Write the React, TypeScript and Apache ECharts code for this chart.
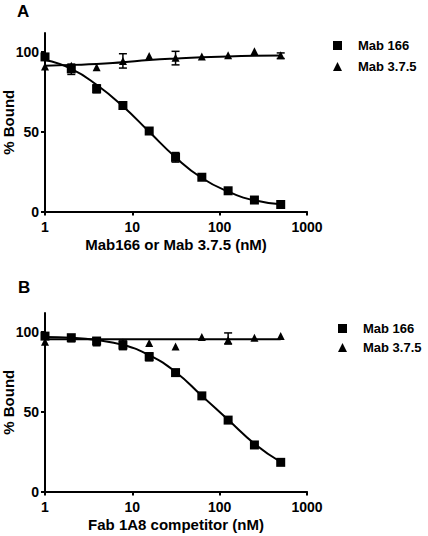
import React, { useEffect, useRef } from "react";
import * as echarts from "echarts";

const doses = [1, 2, 3.9, 7.8, 15.6, 31.25, 62.5, 125, 250, 500];
const xTicks = [1, 10, 100, 1000];
const yTicks = [0, 50, 100];

// Panel A
const aMab166 = [97, 89.5, 77, 66.5, 50.5, 34, 21.5, 13, 7.2, 4.4];
const aMab375 = [91, 91.5, 90.5, 94.5, 97.5, 96.5, 97.3, 98, 100.5, 98];
const aFit166 = [95, 89.5, 79.5, 66, 50, 34, 21, 12.5, 7, 4.5];
const aFit375 = [91.5, 92, 92.5, 93.7, 95, 96, 96.8, 97.3, 97.7, 97.9];
// error bars [dose, low, high]
const aErr: number[][] = [
  [2, 86, 92.5],
  [3.9, 74.5, 79.5],
  [7.8, 90, 99],
  [31.25, 31, 37],
  [31.25, 92, 100.5],
  [500, 96, 99.5],
];

// Panel B
const bMab166 = [97.5, 96.5, 94.4, 91.9, 84.6, 74.6, 60, 44.8, 29.2, 18.3];
const bMab375 = [94, 96, 93.5, 93.5, 93.1, 91, 97, 95, 96.5, 97.5];
const bFit166 = [97, 96.5, 95, 92, 85.5, 75, 60, 45, 30, 18.5];
const bFit375 = [95.5, 95.5, 95.5, 95.5, 95.5, 95.5, 95.5, 95.5, 95.5, 95.5];
const bErr: number[][] = [
  [3.9, 92, 96.5],
  [7.8, 89, 94.5],
  [15.6, 82, 87],
  [125, 92.5, 99.5],
];

const seriesNames = ["Mab 166", "Mab 3.7.5"];
const xNames = ["Mab166 or Mab 3.7.5 (nM)", "Fab 1A8 competitor (nM)"];

const FONT = "'Liberation Sans', Arial, Helvetica, sans-serif";
const BLACK = "#000";

const zip = (xs: number[], ys: number[]) => xs.map((x, i) => [x, ys[i]]);

const errRender = (params: any, api: any) => {
  const x = api.value(0);
  const p1 = api.coord([x, api.value(1)]);
  const p2 = api.coord([x, api.value(2)]);
  const w = 4;
  const style = { stroke: BLACK, lineWidth: 1.5 };
  return {
    type: "group",
    children: [
      { type: "line", shape: { x1: p1[0], y1: p1[1], x2: p2[0], y2: p2[1] }, style },
      { type: "line", shape: { x1: p1[0] - w, y1: p1[1], x2: p1[0] + w, y2: p1[1] }, style },
      { type: "line", shape: { x1: p2[0] - w, y1: p2[1], x2: p2[0] + w, y2: p2[1] }, style },
    ],
  };
};

export default function App() {
  const ref = useRef<HTMLDivElement>(null);
  useEffect(() => {
    if (!ref.current) return;
    const chart = echarts.init(ref.current, null, { renderer: "svg" });
    const tickText = { color: BLACK, fontWeight: "bold" as const, fontSize: 14, fontFamily: FONT };
    const nameText = { color: BLACK, fontWeight: "bold" as const, fontSize: 15, fontFamily: FONT };
    const legendText = { color: BLACK, fontWeight: "bold" as const, fontSize: 13, fontFamily: FONT, padding: [0, 0, 0, 11] };
    const mkX = (i: number) => ({
      type: "log",
      gridIndex: i,
      logBase: 10,
      min: 1,
      max: 1000,
      name: xNames[i],
      nameLocation: "middle",
      nameGap: 25,
      nameMoveOverlap: false,
      nameTextStyle: nameText,
      axisLine: { lineStyle: { color: BLACK, width: 2 } },
      axisTick: { length: 4, lineStyle: { color: BLACK, width: 2 }, customValues: xTicks },
      axisLabel: { ...tickText, margin: 8, customValues: xTicks, formatter: (v: number) => String(Math.round(v)) },
      splitLine: { show: false },
      minorTick: { show: false },
    });
    const mkY = (i: number) => ({
      type: "value",
      gridIndex: i,
      min: 0,
      max: 112,
      interval: 50,
      name: "% Bound",
      nameLocation: "middle",
      nameGap: 29,
      nameMoveOverlap: false,
      nameRotate: 90,
      nameTextStyle: nameText,
      axisLine: { show: true, lineStyle: { color: BLACK, width: 2 } },
      axisTick: { show: true, length: 4, lineStyle: { color: BLACK, width: 2 }, customValues: yTicks },
      axisLabel: { ...tickText, margin: 6, customValues: yTicks },
      splitLine: { show: false },
    });
    const scatter = (name: string, i: number, data: number[][], symbol: string, size: number) => ({
      type: "scatter",
      name,
      xAxisIndex: i,
      yAxisIndex: i,
      data,
      symbol,
      symbolSize: size,
      itemStyle: { color: BLACK, opacity: 1 },
      z: 5,
    });
    const fit = (i: number, data: number[][]) => ({
      type: "line",
      xAxisIndex: i,
      yAxisIndex: i,
      data,
      smooth: 0.5,
      showSymbol: false,
      symbol: "none",
      lineStyle: { color: BLACK, width: 2 },
      z: 3,
    });
    const err = (i: number, data: number[][]) => ({
      type: "custom",
      xAxisIndex: i,
      yAxisIndex: i,
      data,
      renderItem: errRender,
      encode: { x: 0, y: [1, 2] },
      z: 4,
    });
    const legend = (top: number, left: number, gap: number) => ({
      data: seriesNames,
      orient: "vertical",
      top,
      left,
      itemWidth: 9,
      itemHeight: 9,
      itemGap: gap,
      selectedMode: false,
      itemStyle: { color: BLACK, opacity: 1 },
      textStyle: legendText,
    });
    chart.setOption({
      animation: false,
      backgroundColor: "#fff",
      grid: [
        { left: 45, top: 33, width: 262, height: 178.5, containLabel: false, outerBoundsMode: "none" },
        { left: 45, top: 313, width: 262, height: 178.5, containLabel: false, outerBoundsMode: "none" },
      ],
      xAxis: [mkX(0), mkX(1)],
      yAxis: [mkY(0), mkY(1)],
      legend: [legend(34, 328, 8), legend(317, 333, 6)],
      graphic: [
        { type: "text", left: 17, top: 3, style: { text: "A", fill: BLACK, font: `bold 17px ${FONT}` } },
        { type: "text", left: 18, top: 279, style: { text: "B", fill: BLACK, font: `bold 17px ${FONT}` } },
      ],
      series: [
        fit(0, zip(doses, aFit166)),
        fit(0, zip(doses, aFit375)),
        err(0, aErr),
        scatter(seriesNames[0], 0, zip(doses, aMab166), "rect", 9),
        scatter(seriesNames[1], 0, zip(doses, aMab375), "triangle", 8),
        fit(1, zip(doses, bFit166)),
        fit(1, zip(doses, bFit375)),
        err(1, bErr),
        scatter(seriesNames[0], 1, zip(doses, bMab166), "rect", 9),
        scatter(seriesNames[1], 1, zip(doses, bMab375), "triangle", 8),
      ],
    });
    return () => chart.dispose();
  }, []);
  return <div ref={ref} style={{ position: "fixed", left: 0, top: 0, width: 428, height: 536 }} />;
}
